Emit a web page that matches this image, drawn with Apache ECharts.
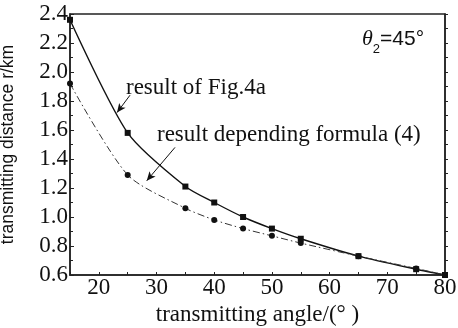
<!DOCTYPE html>
<html><head><meta charset="utf-8">
<script src="https://cdn.jsdelivr.net/npm/echarts@6/dist/echarts.min.js"></script>
<style>html,body{margin:0;padding:0;background:#fff}#c{width:458px;height:328px}</style>
</head><body><div id="c"></div>
<script>
var anglesFig = [15, 25, 35, 40, 45, 50, 55, 65, 75, 80];
var distFig = [2.36, 1.58, 1.21, 1.10, 1.00, 0.92, 0.85, 0.73, 0.64, 0.60];
var anglesFormula = [15, 25, 35, 40, 45, 50, 55, 65, 75, 80];
var distFormula = [1.92, 1.29, 1.06, 0.98, 0.92, 0.87, 0.82, 0.73, 0.645, 0.60];
var yTicks = [0.6, 0.8, 1.0, 1.2, 1.4, 1.6, 1.8, 2.0, 2.2, 2.4];
var xTicks = [20, 30, 40, 50, 60, 70, 80];
var arrowFig = [[25.4, 1.84], [23.15, 1.72]];
var arrowFormula = [[33.2, 1.48], [28.3, 1.25]];

function pairs(xs, ys) { return xs.map(function (x, i) { return [x, ys[i]]; }); }
var serif = '"Liberation Serif", "DejaVu Serif", serif';
var sans = '"Liberation Sans", Arial, sans-serif';

var chart = echarts.init(document.getElementById('c'));
chart.setOption({
  animation: false,
  backgroundColor: '#fff',
  grid: { left: 70, right: 13, top: 14, bottom: 53, show: true, borderColor: '#222', borderWidth: 1.5,
          containLabel: false, outerBoundsMode: 'none' },
  xAxis: {
    type: 'value', min: 15, max: 80, interval: 5,
    name: 'transmitting angle/(\u00b0 )', nameLocation: 'middle', nameGap: 27,
    nameTextStyle: { fontFamily: serif, fontSize: 23, color: '#111' },
    axisLine: { lineStyle: { color: '#222', width: 1.5 } },
    axisTick: { inside: true, length: 3, lineStyle: { color: '#222' } },
    splitLine: { show: false },
    axisLabel: {
      fontFamily: serif, fontSize: 23, color: '#111', margin: 1,
      formatter: function (v) { return xTicks.indexOf(v) >= 0 ? String(v) : ''; }
    }
  },
  yAxis: [{
    type: 'value', min: 0.6, max: 2.4, interval: 0.2,
    name: 'transmitting distance r/km', nameLocation: 'middle', nameGap: 53,
    nameTextStyle: { fontFamily: sans, fontSize: 17.5, color: '#111' },
    axisLine: { show: true, lineStyle: { color: '#222', width: 1.5 } },
    axisTick: { inside: true, length: 4, lineStyle: { color: '#222' } },
    minorTick: { show: true, splitNumber: 2, length: 3, lineStyle: { color: '#222' } },
    splitLine: { show: false },
    axisLabel: {
      fontFamily: serif, fontSize: 23, color: '#111', margin: 2,
      formatter: function (v) {
        for (var i = 0; i < yTicks.length; i++) if (Math.abs(yTicks[i] - v) < 1e-6) return yTicks[i].toFixed(1);
        return '';
      }
    }
  }, {
    type: 'value', min: 0.6, max: 2.4, interval: 0.1, position: 'right',
    axisLine: { show: true, lineStyle: { color: '#222', width: 1.5 } },
    axisTick: { inside: false, length: 3, lineStyle: { color: '#222' } },
    axisLabel: { show: false }, splitLine: { show: false }
  }],
  graphic: [
    { type: 'text', left: 126, top: 76, style: { text: 'result of Fig.4a', font: '23px ' + serif, fill: '#111' } },
    { type: 'text', left: 157, top: 123, style: { text: 'result depending formula (4)', font: '23px ' + serif, fill: '#111' } },
    { type: 'text', left: 362, top: 28, style: {
        text: '{t|\u03b8}{s|2}{n|=45\u00b0}',
        rich: {
          t: { fontFamily: serif, fontStyle: 'italic', fontSize: 22, fill: '#111', verticalAlign: 'bottom' },
          s: { fontFamily: sans, fontSize: 13, fill: '#111', verticalAlign: 'bottom', padding: [0, 0, -6, 0] },
          n: { fontFamily: sans, fontSize: 21, fill: '#111', verticalAlign: 'bottom' }
        }
    } }
  ],
  series: [{
    type: 'line', name: 'result of Fig.4a', data: pairs(anglesFig, distFig),
    smooth: 0.25, symbol: 'rect', symbolSize: 6,
    lineStyle: { color: '#111', width: 1.4 }, itemStyle: { color: '#111' },
    markLine: {
      silent: true, symbol: ['none', 'arrow'], symbolSize: [6, 9],
      lineStyle: { color: '#111', width: 1, type: 'solid' }, label: { show: false },
      data: [[{ coord: arrowFig[0] }, { coord: arrowFig[1] }]]
    }
  }, {
    type: 'line', name: 'result depending formula (4)', data: pairs(anglesFormula, distFormula),
    smooth: 0.25, symbol: 'circle', symbolSize: 6,
    lineStyle: { color: '#333', width: 1, type: [7, 3, 1.5, 3] }, itemStyle: { color: '#111' },
    markLine: {
      silent: true, symbol: ['none', 'arrow'], symbolSize: [6, 9],
      lineStyle: { color: '#111', width: 1, type: 'solid' }, label: { show: false },
      data: [[{ coord: arrowFormula[0] }, { coord: arrowFormula[1] }]]
    }
  }]
});
</script></body></html>
